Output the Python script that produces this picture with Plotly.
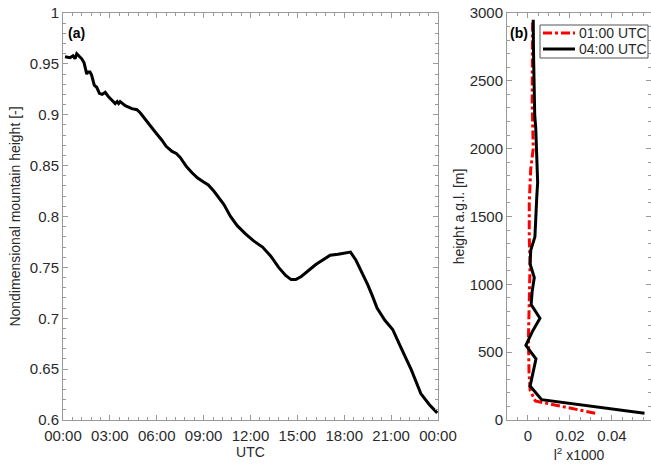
import plotly.graph_objects as go

# Panel (a): nondimensional mountain height vs time (hours UTC)
hours = [0.13, 0.45, 0.64, 0.77, 0.88, 1.09, 1.2, 1.35, 1.44, 1.52, 1.6, 1.73, 1.83, 1.9, 2.0,
         2.16, 2.33, 2.5, 2.7, 2.9, 3.08, 3.23, 3.34, 3.47, 3.56, 3.66, 3.82, 3.98, 4.41, 4.73,
         4.94, 5.37, 5.8, 6.33, 6.6, 6.98, 7.25, 7.5, 7.9, 8.26, 8.6, 9.0, 9.3, 9.65, 9.95,
         10.29, 10.72, 11.15, 11.68, 12.2, 12.77, 13.3, 13.8, 14.25, 14.6, 14.9, 15.25, 15.7,
         16.2, 16.6, 17.1, 17.6, 18.0, 18.4, 18.75, 19.1, 19.5, 19.8, 20.1, 20.6, 21.1, 21.6,
         22.3, 22.9, 23.2, 23.45, 23.95]
mheight = [0.957, 0.956, 0.958, 0.955, 0.960, 0.957, 0.955, 0.951, 0.945, 0.940, 0.942, 0.942,
           0.939, 0.934, 0.929, 0.927, 0.921, 0.920, 0.922, 0.918, 0.915, 0.912, 0.911, 0.913,
           0.911, 0.913, 0.911, 0.909, 0.906, 0.905, 0.902, 0.893, 0.885, 0.875, 0.869, 0.864,
           0.862, 0.858, 0.849, 0.843, 0.838, 0.834, 0.831, 0.825, 0.819, 0.812, 0.800, 0.791,
           0.783, 0.776, 0.770, 0.761, 0.750, 0.742, 0.738, 0.738, 0.741, 0.747, 0.753, 0.757,
           0.762, 0.763, 0.764, 0.765, 0.757, 0.746, 0.733, 0.722, 0.710, 0.698, 0.689, 0.672,
           0.649, 0.626, 0.620, 0.615, 0.607]
time_tickvals = [0, 3, 6, 9, 12, 15, 18, 21, 24]
time_ticktext = ["00:00", "03:00", "06:00", "09:00", "12:00", "15:00", "18:00", "21:00", "00:00"]
mh_tickvals = [0.6, 0.65, 0.7, 0.75, 0.8, 0.85, 0.9, 0.95, 1.0]
mh_ticktext = ["0.6", "0.65", "0.7", "0.75", "0.8", "0.85", "0.9", "0.95", "1"]

# Panel (b): l^2 x1000 profiles
h_0100 = [50, 140, 220, 350, 600, 900, 1150, 1350, 1600, 1850, 2000, 2350, 2950]
l2_0100 = [0.032, 0.0035, 0.001, 0.0005, 0.0002, 0.0006, 0.001, 0.0006, 0.0006, 0.0013,
           0.0025, 0.002, 0.0022]
h_0400 = [50, 150, 250, 350, 450, 550, 650, 750, 850, 950, 1050, 1150, 1250, 1350, 1450,
          1550, 1650, 1750, 1850, 1950, 2050, 2150, 2250, 2350, 2450, 2550, 2650, 2750,
          2850, 2950]
l2_0400 = [0.0555, 0.0065, 0.001, 0.0025, 0.0038, -0.001, 0.002, 0.0057, 0.0015, 0.002,
           0.003, 0.001, 0.0013, 0.0033, 0.0035, 0.0038, 0.0042, 0.0046, 0.0044, 0.0042,
           0.0040, 0.0037, 0.0032, 0.003, 0.003, 0.0028, 0.0027, 0.0026, 0.0025, 0.0025]
l2_tickvals = [0, 0.02, 0.04]
l2_ticktext = ["0", "0.02", "0.04"]
legend_names = ["01:00 UTC", "04:00 UTC"]
legend_colors = ["red", "black"]
legend_dashes = ["dashdot", "solid"]

W, H = 651, 468
MT, MB = 13, 48
PH = H - MT - MB
FONT = "Liberation Sans, Arial, Helvetica, sans-serif"
TXT = "#2a2a2a"
AX = "#9a9a9a"


def px(x):
    return x / W


def py(y):
    return (H - MB - y) / PH


fig = go.Figure()
fig.add_trace(go.Scatter(x=hours, y=mheight, mode="lines", line=dict(color="black", width=3),
                         showlegend=False, xaxis="x", yaxis="y"))
fig.add_trace(go.Scatter(x=l2_0100, y=h_0100, mode="lines", name=legend_names[0],
                         line=dict(color=legend_colors[0], width=3, dash=legend_dashes[0]),
                         xaxis="x2", yaxis="y2", showlegend=False))
fig.add_trace(go.Scatter(x=l2_0400, y=h_0400, mode="lines", name=legend_names[1],
                         line=dict(color=legend_colors[1], width=3, dash=legend_dashes[1]),
                         xaxis="x2", yaxis="y2", showlegend=False))

common = dict(showline=True, linecolor=AX, linewidth=1, mirror="ticks", ticks="inside",
              ticklen=5, tickcolor=AX, showgrid=False, zeroline=False, automargin=False,
              tickfont=dict(size=15, color=TXT, family=FONT))

# Legend drawn as box + samples + text (compact like the reference)
shapes = [dict(type="rect", xref="paper", yref="paper", x0=px(540), x1=px(648),
               y0=py(58), y1=py(25), line=dict(color="#555", width=1), fillcolor="white",
               layer="above")]
annotations = [
    dict(text="<b>(a)</b>", xref="x domain", yref="y domain", x=0.008, y=0.95,
         xanchor="left", yanchor="middle", showarrow=False, font=dict(size=14, color="black")),
    dict(text="<b>(b)</b>", xref="x2 domain", yref="y2 domain", x=0.01, y=0.95,
         xanchor="left", yanchor="middle", showarrow=False, font=dict(size=14, color="black")),
]
for i, (name, col, dsh) in enumerate(zip(legend_names, legend_colors, legend_dashes)):
    yrow = 33 + 16 * i
    shapes.append(dict(type="line", xref="paper", yref="paper", x0=px(543), x1=px(575),
                       y0=py(yrow), y1=py(yrow), line=dict(color=col, width=3, dash=dsh),
                       layer="above"))
    annotations.append(dict(text=name, xref="paper", yref="paper", x=px(577), y=py(yrow),
                            xanchor="left", yanchor="middle", showarrow=False,
                            font=dict(size=14, color=TXT, family=FONT)))

fig.update_layout(
    width=W, height=H,
    margin=dict(l=0, r=0, t=MT, b=MB, autoexpand=False),
    plot_bgcolor="white", paper_bgcolor="white",
    font=dict(family=FONT, color=TXT, size=14),
    showlegend=False,
    xaxis=dict(domain=[63 / W, 438 / W], range=[0, 24], tickvals=time_tickvals,
               ticktext=time_ticktext, anchor="y", ticklabelstandoff=2,
               minor=dict(dtick=0.6, tick0=0, ticks="inside", ticklen=3, tickcolor=AX),
               title=dict(text="UTC", font=dict(size=14, color=TXT), standoff=3), **common),
    yaxis=dict(range=[0.6, 1.0], anchor="x", tickvals=mh_tickvals, ticktext=mh_ticktext,
               minor=dict(dtick=0.01, tick0=0.6, ticks="inside", ticklen=3, tickcolor=AX),
               title=dict(text="Nondimensional mountain height [-]", font=dict(size=14, color=TXT),
                          standoff=5), **common),
    xaxis2=dict(domain=[507 / W, 1.0], range=[-0.01, 0.0586], anchor="y2",
                tickvals=l2_tickvals, ticktext=l2_ticktext, ticklabelstandoff=2,
                minor=dict(dtick=0.005, tick0=0, ticks="inside", ticklen=3, tickcolor=AX),
                title=dict(text="l<sup>2</sup> x1000", font=dict(size=14, color=TXT), standoff=7),
                **common),
    yaxis2=dict(range=[0, 3000], dtick=500, anchor="x2",
                minor=dict(dtick=100, ticks="inside", ticklen=3, tickcolor=AX),
                title=dict(text="height a.g.l. [m]", font=dict(size=14, color=TXT), standoff=1),
                **common),
    shapes=shapes,
    annotations=annotations,
)

fig.write_html("out.html")
